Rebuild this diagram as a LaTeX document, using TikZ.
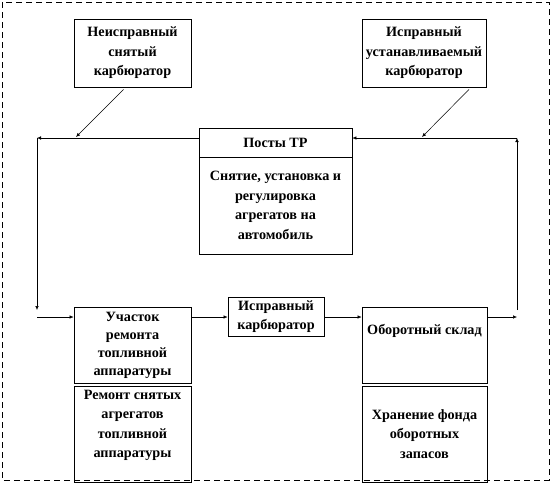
\documentclass[tikz,border=0pt]{standalone}
\usepackage{fontspec}
\setmainfont{Liberation Serif}
\usetikzlibrary{arrows, arrows.meta, positioning, calc}

\tikzset{
    box/.style={draw=black, line width=0.8pt, inner sep=0pt, align=center,
                font=\fontsize{14.2}{19.5}\selectfont\bfseries},
    flow/.style={-{Latex[length=4pt, width=3.5pt]}, line width=0.5pt}
}

\begin{document}
\begin{tikzpicture}[x=1pt, y=-1pt]
    \useasboundingbox (0,0) rectangle (554,485);
    \draw[line width=0.6pt, dash pattern=on 6pt off 4pt] (2,2) rectangle (549,480);

    % upper boxes
    \node[box, minimum width=117pt, minimum height=68pt] (removed) at (132.5,53)
        {Неисправный\\снятый\\карбюратор};
    \node[box, minimum width=124pt, minimum height=68pt] (installed) at (424,53)
        {Исправный\\устанавливаемый\\карбюратор};

    % posts TR
    \node[box, minimum width=153pt, minimum height=29pt] (postsT) at (275.5,142.5) {Посты ТР};
    \node[box, minimum width=153pt, minimum height=97pt] (postsB) at (275.5,205.5)
        {Снятие, установка и\\регулировка\\агрегатов на\\автомобиль};

    % lower row
    \node[box, minimum width=117pt, minimum height=76pt,
          font=\fontsize{14.2}{18}\selectfont\bfseries] (repair) at (132.5,345.5)
        {Участок\\ремонта\\топливной\\аппаратуры};
    \node[box, minimum width=117pt, minimum height=96pt] (repairB) at (132.5,434)
        {Ремонт снятых\\агрегатов\\топливной\\аппаратуры\\[1pt]};
    \node[box, minimum width=96pt, minimum height=39pt] (good) at (276,316.5)
        {Исправный\\карбюратор};
    \node[box, minimum width=125pt, minimum height=76pt] (stock) at (424.5,345)
        {Оборотный склад\\[12pt]};
    \node[box, minimum width=125pt, minimum height=96pt] (stockB) at (424.5,434)
        {Хранение фонда\\оборотных\\запасов};

    % loop corners
    \coordinate (tl) at (37,138);
    \coordinate (tr) at (517,138);
    \coordinate (bl) at (37,317);
    \coordinate (br) at (517,317);

    \draw[flow] (postsT.west |- tl) -- (tl);
    \draw[flow] (tl) -- ($(bl)+(0,-7)$);
    \draw[flow] (bl) -- (repair.west |- bl);
    \draw[flow] (repair.east |- bl) -- (good.west |- bl);
    \draw[flow] (good.east |- bl) -- (stock.west |- bl);
    \draw[flow] (stock.east |- br) -- (br);
    \draw[flow] ($(br)+(0,-7)$) -- (tr);
    \draw[flow] (tr) -- (postsT.east |- tr);

    % removed / installed carburettors
    \draw[flow] ($(removed.south)+(-9,2)$) -- (76,137);
    \draw[flow] ($(installed.south)+(45,2)$) -- (422,137);
\end{tikzpicture}
\end{document}
